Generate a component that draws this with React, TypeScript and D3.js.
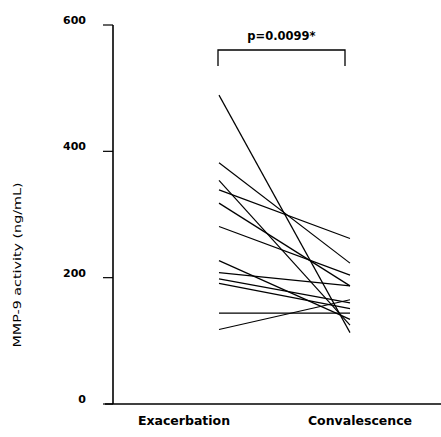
import React from "react";
import * as d3 from "d3";

const groups = ["Exacerbation", "Convalescence"];
const exacerbation = [489, 382, 354, 339, 318, 281, 227, 208, 198, 191, 144, 118];
const convalescence = [113, 223, 125, 262, 187, 204, 134, 187, 160, 151, 144, 165];
const yTicks = [0, 200, 400, 600];
const pLabel = "p=0.0099*";
const yTitle = "MMP-9 activity (ng/mL)";

const W = 441;
const H = 437;

export default function App() {
  const y = d3.scaleLinear().domain([0, 600]).range([404, 25]);
  const x = d3.scalePoint<string>().domain(groups).range([219, 350]);
  const xLabel = d3.scalePoint<string>().domain(groups).range([184, 360]);
  const axisX = 113;
  const line = d3
    .line<[string, number]>()
    .x((d) => x(d[0]) as number)
    .y((d) => y(d[1]));
  const font = "'DejaVu Sans', Verdana, sans-serif";
  const bx0 = (x(groups[0]) as number) - 1;
  const bx1 = (x(groups[1]) as number) - 5;
  const bTop = 50;
  const bBot = 66;

  return (
    <svg
      width={W}
      height={H}
      style={{ position: "absolute", left: 0, top: 0, background: "#fff" }}
    >
      {/* axes */}
      <line x1={axisX} x2={axisX} y1={y(600)} y2={y(0)} stroke="#000" strokeWidth={1.6} />
      <line x1={105} x2={W} y1={y(0)} y2={y(0)} stroke="#000" strokeWidth={1.4} />
      {yTicks.map((t) => (
        <g key={t}>
          <line x1={103} x2={axisX} y1={y(t)} y2={y(t)} stroke="#000" strokeWidth={1.2} />
          <text
            x={86}
            y={y(t) - 4}
            textAnchor="end"
            dominantBaseline="middle"
            fontFamily={font}
            fontWeight="bold"
            fontSize={11}
          >
            {t}
          </text>
        </g>
      ))}
      {/* paired lines */}
      {exacerbation.map((v, i) => (
        <path
          key={i}
          d={line([
            [groups[0], v],
            [groups[1], convalescence[i]],
          ]) as string}
          fill="none"
          stroke="#000"
          strokeWidth={1.2}
        />
      ))}
      {/* bracket */}
      <path
        d={`M${bx0},${bBot}V${bTop}H${bx1}V${bBot}`}
        fill="none"
        stroke="#000"
        strokeWidth={1.3}
      />
      <text
        x={(bx0 + bx1) / 2}
        y={36}
        textAnchor="middle"
        dominantBaseline="middle"
        fontFamily={font}
        fontWeight="bold"
        fontSize={11.5}
      >
        {pLabel}
      </text>
      {/* x labels */}
      {groups.map((g) => (
        <text
          key={g}
          x={xLabel(g) as number}
          y={421}
          textAnchor="middle"
          dominantBaseline="middle"
          fontFamily={font}
          fontWeight="bold"
          fontSize={12.5}
        >
          {g}
        </text>
      ))}
      {/* y title */}
      <text
        transform={`translate(18,265) rotate(-90)`}
        textAnchor="middle"
        dominantBaseline="middle"
        fontFamily={font}
        fontSize={11}
        textLength={165}
        lengthAdjust="spacingAndGlyphs"
      >
        {yTitle}
      </text>
    </svg>
  );
}
